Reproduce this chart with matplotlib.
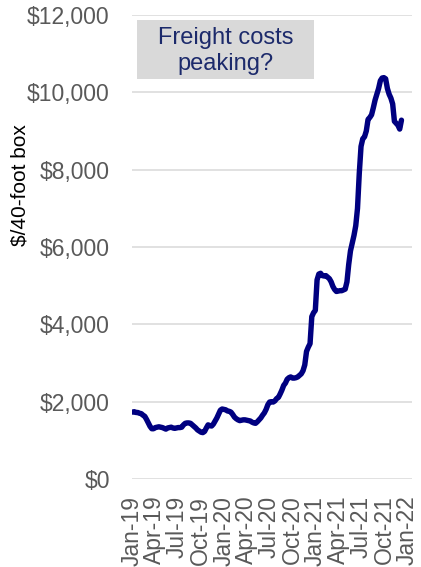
import matplotlib
matplotlib.use("Agg")
import matplotlib.pyplot as plt
import matplotlib.dates as mdates
from matplotlib.patches import Rectangle
import numpy as np
import pandas as pd

plt.rcParams['font.family'] = ['Liberation Sans', 'DejaVu Sans']

# Weekly container freight rate, USD per 40-foot box
start_date = "2019-01-03"
rates = [
    1730, 1740, 1720, 1720, 1700, 1690, 1650, 1620, 1540, 1450,
    1360, 1300, 1300, 1330, 1340, 1350, 1340, 1330, 1310, 1290,
    1320, 1330, 1340, 1320, 1310, 1320, 1330, 1330, 1340, 1400,
    1440, 1450, 1450, 1440, 1400, 1360, 1320, 1270, 1240, 1210,
    1200, 1230, 1320, 1400, 1380, 1370, 1420, 1500, 1580, 1680,
    1780, 1810, 1800, 1790, 1760, 1750, 1730, 1670, 1600, 1560,
    1530, 1510, 1520, 1530, 1530, 1520, 1510, 1500, 1470, 1450,
    1440, 1480, 1530, 1580, 1650, 1710, 1800, 1920, 1990, 2000,
    1990, 2020, 2080, 2110, 2200, 2300, 2420, 2480, 2580, 2620,
    2640, 2610, 2610, 2620, 2640, 2680, 2720, 2800, 2950, 3300,
    3410, 3500, 4200, 4300, 4360, 5150, 5300, 5320, 5260, 5250,
    5260, 5220, 5180, 5100, 4980, 4900, 4850, 4860, 4870, 4870,
    4890, 4910, 5100, 5550, 5900, 6100, 6300, 6550, 7000, 7900,
    8600, 8800, 8850, 9000, 9300, 9350, 9420, 9600, 9800, 9950,
    10100, 10300, 10370, 10380, 10350, 10100, 9950, 9850, 9700, 9250,
    9200, 9150, 9050, 9280,
]
dates = pd.date_range(start_date, periods=len(rates), freq="7D")

y_ticks = [0, 2000, 4000, 6000, 8000, 10000, 12000]
x_tick_labels = ["Jan-19", "Apr-19", "Jul-19", "Oct-19", "Jan-20", "Apr-20", "Jul-20",
                 "Oct-20", "Jan-21", "Apr-21", "Jul-21", "Oct-21", "Jan-22"]
x_ticks = pd.to_datetime(x_tick_labels, format="%b-%y")

W, H = 421, 567
fig = plt.figure(figsize=(W / 100, H / 100), dpi=100)
ax = fig.add_axes([132 / W, 1 - 479 / H, (412 - 132) / W, (479 - 15) / H])

ax.plot(dates, rates, color="#000080", linewidth=3.9, solid_joinstyle="round",
        solid_capstyle="round", zorder=3)

ax.set_ylim(0, 12000)
ax.set_xlim(pd.Timestamp("2019-01-01"), pd.Timestamp("2022-01-20"))
ax.set_yticks(y_ticks)
ax.set_yticklabels([f"${v:,}" for v in y_ticks])
ax.set_xticks(x_ticks)
ax.set_xticklabels(x_tick_labels, rotation=90)

ax.grid(axis="y", color="#d9d9d9", linewidth=1.1, zorder=0)
ax.grid(axis="x", visible=False)
for s in ax.spines.values():
    s.set_visible(False)
ax.tick_params(axis="both", length=0, labelsize=16.5, labelcolor="#595959")
ax.tick_params(axis="y", pad=16)
ax.tick_params(axis="x", pad=12)

fig.text(20 / W, 1 - 185 / H, "$/40-foot box", rotation=90, ha="center", va="center",
         fontsize=15, color="black")

# Callout box
fig.patches.append(Rectangle((137 / W, 1 - 79 / H), (314 - 137) / W, (79 - 20) / H,
                             transform=fig.transFigure, facecolor="#d9d9d9",
                             edgecolor="none", zorder=5))
fig.text(225.5 / W, 1 - 51 / H, "Freight costs\npeaking?", ha="center", va="center",
         fontsize=17, color="#1c2a6b", linespacing=1.2, zorder=6)

fig.savefig("out.png", dpi=100)
